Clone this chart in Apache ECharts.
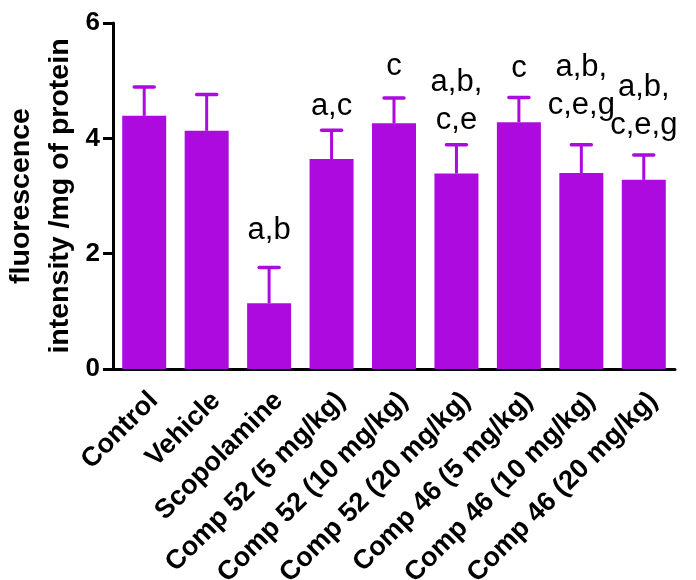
<!DOCTYPE html>
<html lang="en">
<head>
    <meta charset='utf-8' />
    <title>fluorescence</title>
    <script src="https://cdn.jsdelivr.net/npm/echarts@6/dist/echarts.min.js"></script>
    <style>
        html, body { margin: 0; padding: 0; background: #fff; }
        #chart { width: 696px; height: 580px; }
    </style>
</head>
<body>
<div id="chart"></div>
<script>
    // data
    var groups = ['Control', 'Vehicle', 'Scopolamine', 'Comp 52 (5 mg/kg)', 'Comp 52 (10 mg/kg)',
        'Comp 52 (20 mg/kg)', 'Comp 46 (5 mg/kg)', 'Comp 46 (10 mg/kg)', 'Comp 46 (20 mg/kg)'];
    var means = [4.39, 4.13, 1.14, 3.64, 4.26, 3.39, 4.28, 3.40, 3.28];
    var errors = [0.50, 0.63, 0.62, 0.50, 0.44, 0.50, 0.43, 0.49, 0.43];
    var letters = ['', '', 'a,b', 'a,c', 'c', 'a,b,\nc,e', 'c', 'a,b,\nc,e,g', 'a,b,\nc,e,g'];
    // where the letters sit (baseline, axis units)
    var letterAt = [0, 0, 2.20, 4.35, 5.03, 4.11, 5.01, 4.37, 4.02];
    var yTicks = [0, 2, 4, 6];

    var purple = '#AC0ADF';
    var font = "'Liberation Sans', Arial, sans-serif";

    var chart = echarts.init(document.getElementById('chart'));

    var option = {
        animation: false,
        grid: { left: 113, right: 21, top: 23, bottom: 211, outerBoundsMode: 'none' },
        xAxis: {
            type: 'category',
            data: groups,
            axisLine: { lineStyle: { color: '#000', width: 3 } },
            axisTick: { alignWithLabel: true, length: 10, lineStyle: { color: '#000', width: 3 } },
            axisLabel: {
                rotate: 45, interval: 0, margin: 18, color: '#000',
                verticalAlign: 'top',
                fontFamily: font, fontWeight: 'bold', fontSize: 27
            }
        },
        yAxis: {
            type: 'value',
            min: yTicks[0], max: yTicks[yTicks.length - 1], interval: 2,
            name: 'fluorescence\nintensity /mg of protein',
            nameLocation: 'middle',
            nameGap: 33,
            nameMoveOverlap: false,
            nameTextStyle: {
                color: '#000', fontFamily: font, fontWeight: 'bold', fontSize: 28.5, lineHeight: 39
            },
            splitLine: { show: false },
            axisLine: { show: true, lineStyle: { color: '#000', width: 3 } },
            axisTick: { show: true, length: 10, lineStyle: { color: '#000', width: 3 } },
            axisLabel: {
                margin: 13, color: '#000', fontFamily: font, fontWeight: 'bold', fontSize: 26
            }
        },
        series: [
            {
                type: 'bar',
                data: means,
                barWidth: 44,
                itemStyle: { color: purple },
                z: 2
            },
            {
                type: 'custom',
                data: means.map(function (m, i) { return [i, m, m + errors[i], letterAt[i]]; }),
                renderItem: function (params, api) {
                    var base = api.coord([api.value(0), api.value(1)]);
                    var top = api.coord([api.value(0), api.value(2)]);
                    var children = [
                        {
                            type: 'line',
                            shape: { x1: base[0], y1: base[1], x2: top[0], y2: top[1] },
                            style: { stroke: purple, lineWidth: 3 }
                        },
                        {
                            type: 'line',
                            shape: { x1: top[0] - 10, y1: top[1], x2: top[0] + 10, y2: top[1] },
                            style: { stroke: purple, lineWidth: 3.5, lineCap: 'round' }
                        }
                    ];
                    var txt = letters[params.dataIndex];
                    if (txt) {
                        var lp = api.coord([api.value(0), api.value(3)]);
                        children.push({
                            type: 'text',
                            style: {
                                text: txt, x: lp[0], y: lp[1] + 7,
                                align: 'center', verticalAlign: 'bottom',
                                fill: '#000', font: '31px ' + font, lineHeight: 38
                            }
                        });
                    }
                    return { type: 'group', children: children };
                },
                z: 3
            }
        ]
    };

    chart.setOption(option);
</script>
</body>
</html>
